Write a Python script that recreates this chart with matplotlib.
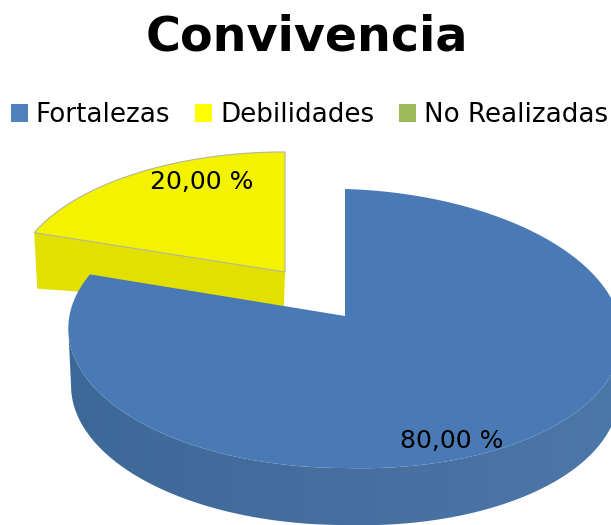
"""Exploded 3D-style pie chart for the Convivencia results."""
import matplotlib
matplotlib.use("Agg")
import matplotlib.pyplot as plt
import numpy as np
from matplotlib.colors import LinearSegmentedColormap
from matplotlib.patches import Patch, Polygon

title = "Convivencia"
categories = ["Fortalezas", "Debilidades", "No Realizadas"]
values = [80.0, 20.0, 0.0]
value_labels = ["80,00 %", "20,00 %"]
legend_colors = ["#4f81bd", "#ffff00", "#9bbb59"]

TILT = 0.0896  # perspective: far side of the pie looks smaller


def rim(start, stop, cx, cy, rx, ry, lean=0.0, n=300):
    # points on the projected pie circle, angle clockwise from 12 o'clock
    t = np.linspace(start, stop, n)
    u, v = np.sin(t), np.cos(t)
    scale = 1 / (1 + TILT * v)
    x = cx + rx * u * scale
    y = cy - ry * v * scale + lean * np.maximum(x - cx, 0)
    return np.column_stack([x, y])


fig = plt.figure(figsize=(6.11, 5.25), dpi=100)
ax = fig.add_axes([0, 0, 1, 1])
ax.axis("off")

share = np.array(values) / sum(values) * 2 * np.pi
blue_stop = share[0]
yellow_stop = share[0] + share[1]

# yellow slice, pulled out of the pie
y_apex = np.array([285.0, 272.0])
y_rim = rim(blue_stop, yellow_stop, 285, 272, 271, 130.8)
y_left = y_rim[0]
ax.add_patch(Polygon([y_left, y_apex, y_apex + [-1, 34], y_left + [3, 56]],
                     closed=True, fc="#e2e000", ec="none", zorder=1))
ax.add_patch(Polygon(np.vstack([y_apex, y_rim]), closed=True, fc="#f3f300",
                     ec="#b4b49a", lw=0.8, zorder=2))

# blue slice: side wall with a left-to-right shade, then the top face
b_args = (345, 316, 275.6, 138.4)
depth = 57
# wall starts at the widest points of the projected rim, not at 3 and 9 o'clock
wall_top = rim(np.pi / 2 + 0.09, 3 * np.pi / 2 - 0.09, *b_args, lean=0.03)
wall_bottom = wall_top + [0, depth]
wall_bottom[:, 0] = 345 + (wall_bottom[:, 0] - 345) * 0.99
wall = Polygon(np.vstack([wall_top, wall_bottom[::-1]]), closed=True, transform=ax.transData)
shade = LinearSegmentedColormap.from_list("wall", ["#3c6897", "#466f9f", "#4c77a9"])
img = ax.imshow(np.linspace(0, 1, 256)[None, :], cmap=shade, aspect="auto",
                extent=(65, 625, 525, 300), zorder=3)
img.set_clip_path(wall)

b_rim = rim(0, blue_stop, *b_args, lean=0.03, n=500)
ax.add_patch(Polygon(np.vstack([[345, 316], b_rim]), closed=True, fc="#4a7ab5",
                     ec="none", zorder=4))

ax.set_xlim(0, 611)
ax.set_ylim(525, 0)

ax.text(452, 441, value_labels[0], fontsize=18, ha="center", va="center", zorder=5)
ax.text(202, 182, value_labels[1], fontsize=18, ha="center", va="center", zorder=5)

ax.text(307, 37, title, fontsize=34.3, fontweight="bold", ha="center", va="center")

handles = [Patch(fc=c, ec="none", label=n) for c, n in zip(legend_colors, categories)]
fig.legend(handles=handles, loc="center", bbox_to_anchor=(0.5066, 1 - 115 / 525), ncol=3,
           frameon=False, fontsize=18.8, handlelength=0.66, handleheight=0.66,
           handletextpad=0.3, columnspacing=0.95, borderpad=0, borderaxespad=0)

fig.savefig("out.png", dpi=100)
plt.close(fig)
